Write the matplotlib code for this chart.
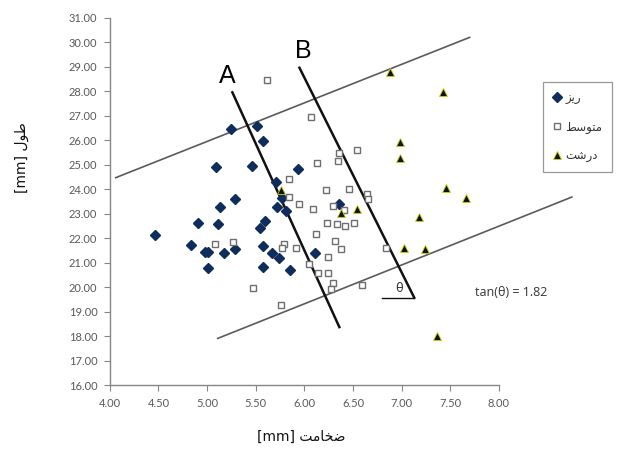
import matplotlib
matplotlib.use('Agg')
import matplotlib.pyplot as plt

# ---- data ----
fine_x = [4.46, 4.83, 4.91, 4.98, 5.01, 5.01, 5.09, 5.11, 5.13, 5.17, 5.25, 5.29, 5.29, 5.46, 5.51,
          5.54, 5.58, 5.58, 5.58, 5.60, 5.67, 5.71, 5.72, 5.74, 5.77, 5.81, 5.85, 5.93, 6.11, 6.36]
fine_y = [22.12, 21.74, 22.64, 21.45, 21.45, 20.78, 24.89, 22.58, 23.27, 21.41, 26.44, 23.59, 21.55, 24.95, 26.58,
          22.40, 25.97, 21.70, 20.83, 22.72, 21.39, 24.31, 23.29, 21.18, 23.63, 23.11, 20.71, 24.82, 21.39, 23.38]

medium_x = [5.62, 6.07, 6.54, 6.36, 6.35, 6.13, 5.84, 5.84, 5.95, 6.09, 6.22, 6.46, 6.64, 6.65, 6.29,
            6.41, 6.23, 6.34, 6.42, 6.51, 6.12, 6.32, 6.38, 5.79, 5.77, 5.91, 6.24, 6.05, 6.14, 6.24,
            6.29, 6.27, 6.59, 6.84, 5.47, 5.76, 5.08, 5.27]
medium_y = [28.45, 26.93, 25.60, 25.49, 25.15, 25.06, 24.42, 23.69, 23.38, 23.18, 23.97, 24.00, 23.81, 23.59, 23.32,
            23.15, 22.64, 22.58, 22.50, 22.64, 22.17, 21.90, 21.56, 21.77, 21.59, 21.59, 21.25, 20.94, 20.60, 20.57,
            20.19, 19.92, 20.10, 21.59, 19.96, 19.28, 21.75, 21.85]

coarse_x = [5.76, 6.38, 6.54, 6.88, 7.43, 6.98, 6.98, 7.46, 7.66, 7.18, 7.02, 7.24, 7.36]
coarse_y = [23.95, 23.02, 23.18, 28.77, 27.95, 25.94, 25.28, 24.06, 23.65, 22.85, 21.62, 21.55, 18.03]

# guide lines (drawn shapes in the reference)
upper_x, upper_y = [4.06, 7.70], [24.47, 30.19]
lower_x, lower_y = [5.11, 8.75], [17.92, 23.68]
lineA_x, lineA_y = [5.26, 6.36], [27.95, 18.38]
lineB_x, lineB_y = [5.95, 7.13], [28.95, 19.58]
theta_x, theta_y = [6.80, 7.13], [19.58, 19.58]

x_ticks = [4.0, 4.5, 5.0, 5.5, 6.0, 6.5, 7.0, 7.5, 8.0]
y_ticks = list(range(16, 32))

# Persian labels (shaped presentation forms, visual order)
lbl_fine = "\uFEB0\uFEF3\uFEAD"              # ریز
lbl_medium = "\uFEC2\uFEB3\uFEEE\uFE98\uFEE3"  # متوسط
lbl_coarse = "\uFE96\uFEB7\uFEAD\uFEA9"        # درشت
xlabel = "[mm] " + "\uFE96\uFEE3\uFE8E\uFEA8\uFEBF"  # ضخامت [mm]
ylabel = "[mm] " + "\uFEDD\uFEEE\uFEC3"              # طول [mm]

fig = plt.figure(figsize=(6.17, 4.57), dpi=100)
ax = fig.add_axes([0.178, 0.1565, 0.6305, 0.8052])

tick_font = ['Lato', 'DejaVu Sans']
grey = '#595959'

ax.plot(fine_x, fine_y, linestyle='none', marker='D', markersize=4.8,
        color='#0f2d5c', markeredgecolor='#0f2d5c', label=lbl_fine, zorder=3)
ax.plot(medium_x, medium_y, linestyle='none', marker='s', markersize=5,
        markerfacecolor='white', markeredgecolor='#6e6e6e', markeredgewidth=1.0,
        label=lbl_medium, zorder=3)
ax.plot(coarse_x, coarse_y, linestyle='none', marker='^', markersize=5.5,
        markerfacecolor='#111111', markeredgecolor='#c8d400', markeredgewidth=0.6,
        label=lbl_coarse, zorder=4)

for lx, ly in [(upper_x, upper_y), (lower_x, lower_y)]:
    ax.plot(lx, ly, color='#5a5a5a', lw=1.2, clip_on=False, zorder=2)
for lx, ly in [(lineA_x, lineA_y), (lineB_x, lineB_y)]:
    ax.plot(lx, ly, color='#111111', lw=1.8, clip_on=False, zorder=2)
ax.plot(theta_x, theta_y, color='#111111', lw=1.0, zorder=2)

ax.text(5.21, 28.62, 'A', fontsize=18, family='Liberation Sans', ha='center', va='center')
ax.text(5.99, 29.64, 'B', fontsize=18, family='Liberation Sans', ha='center', va='center')
ax.text(6.97, 19.95, '\u03b8', fontsize=9, family='DejaVu Sans', ha='center', va='center', color='#333333')
ax.text(7.75, 19.81, 'tan(\u03b8) = 1.82', fontsize=9, family=['Open Sans', 'DejaVu Sans'],
        ha='left', va='center', color='#333333', clip_on=False)

ax.set_xlim(4, 8)
ax.set_ylim(16, 31)
ax.set_xticks(x_ticks)
ax.set_yticks(y_ticks)
ax.set_xticklabels([f"{v:.2f}" for v in x_ticks], family=tick_font, fontsize=8, color=grey)
ax.set_yticklabels([f"{v:.2f}" for v in y_ticks], family=tick_font, fontsize=8, color=grey)
ax.tick_params(direction='out', length=4, color='#868686', width=0.8, pad=5)
for s in ['top', 'right']:
    ax.spines[s].set_visible(False)
for s in ['left', 'bottom']:
    ax.spines[s].set_color('#868686')
    ax.spines[s].set_linewidth(1.0)

fig.text(0.488, 0.043, xlabel, family='DejaVu Sans', fontsize=10, ha='center', va='center', color='#111111')
fig.text(0.036, 0.655, ylabel, family='DejaVu Sans', fontsize=10, ha='center', va='center',
         rotation=90, color='#111111')

leg = ax.legend(loc='upper left', bbox_to_anchor=(0.880, 0.8206), bbox_transform=fig.transFigure,
                frameon=True, fancybox=False, edgecolor='#808080',
                prop={'family': 'DejaVu Sans', 'size': 8.5},
                labelspacing=1.35, handlelength=0.7, handletextpad=0.4, borderpad=0.8, borderaxespad=0)
leg.get_frame().set_linewidth(0.9)
for t in leg.get_texts():
    t.set_color('#333333')

fig.savefig('out.png', dpi=100)
